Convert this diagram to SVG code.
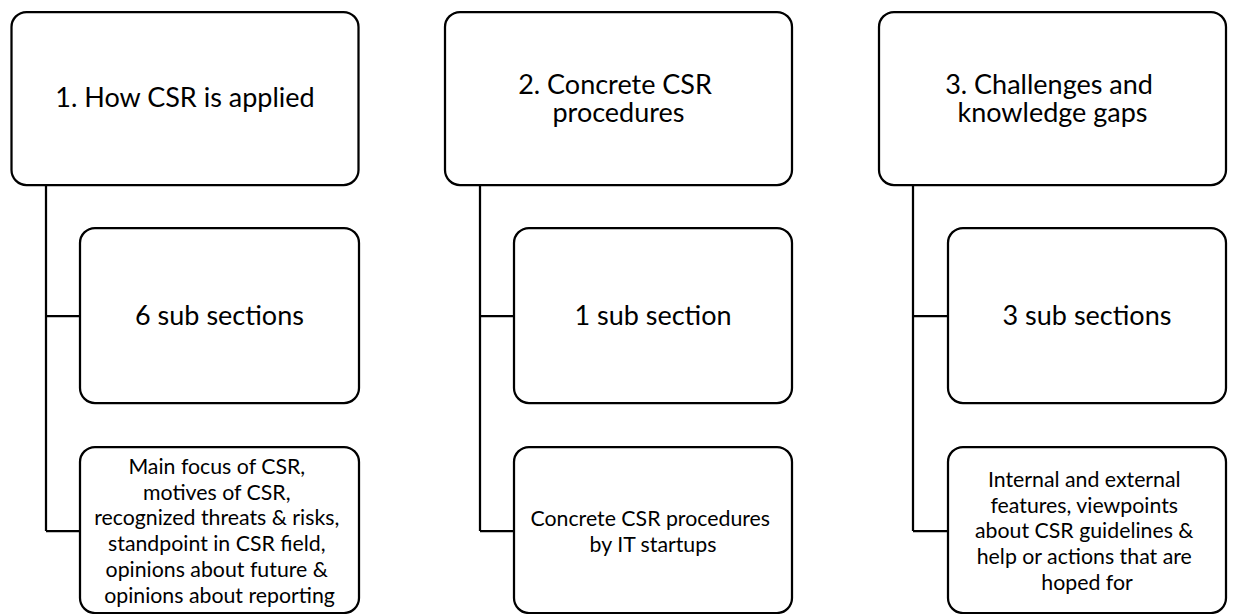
<svg xmlns="http://www.w3.org/2000/svg" width="1234" height="614" viewBox="0 0 1234 614">
  <style>
    .box { fill: #ffffff; stroke: #000000; stroke-width: 2.25; }
    .link { fill: none; stroke: #000000; stroke-width: 2.25; }
    .title { font-family: Lato, "Liberation Sans", sans-serif; font-size: 27px; fill: #000000; text-anchor: middle; }
    .body { font-family: Lato, "Liberation Sans", sans-serif; font-size: 21.3px; fill: #000000; text-anchor: middle; }
  </style>

  <!-- tree connectors: trunk from each heading, branches to its two children -->
  <g id="connectors">
    <path class="link" d="M46,185 V531 M46,316 H80 M46,531 H80"/>
    <path class="link" d="M480,185 V531 M480,316 H514 M480,531 H514"/>
    <path class="link" d="M913,185 V531 M913,316 H948 M913,531 H948"/>
  </g>

  <!-- column 1 -->
  <g id="node-how-csr-applied">
    <rect class="box" x="11.5" y="12" width="347" height="173" rx="15"/>
    <text class="title" x="185" y="107">1. How CSR is applied</text>
  </g>
  <g id="node-6-sub-sections">
    <rect class="box" x="80" y="228" width="279" height="175" rx="15"/>
    <text class="title" x="219.5" y="325">6 sub sections</text>
  </g>
  <g id="node-applied-topics">
    <rect class="box" x="80" y="447" width="279" height="166" rx="15"/>
    <text class="body" x="219.5" y="474">
      <tspan x="219.5">Main focus of CSR,</tspan>
      <tspan x="219.5" dy="25.7">motives of CSR,</tspan>
      <tspan x="219.5" dy="25.7">recognized threats &amp; risks,</tspan>
      <tspan x="219.5" dy="25.7">standpoint in CSR field,</tspan>
      <tspan x="219.5" dy="25.7">opinions about future &amp;</tspan>
      <tspan x="219.5" dy="25.7">opinions about reporting</tspan>
    </text>
  </g>

  <!-- column 2 -->
  <g id="node-concrete-procedures">
    <rect class="box" x="445" y="12" width="347" height="173" rx="15"/>
    <text class="title" x="618.5" y="94">
      <tspan x="618.5">2. Concrete CSR</tspan>
      <tspan x="618.5" dy="28">procedures</tspan>
    </text>
  </g>
  <g id="node-1-sub-section">
    <rect class="box" x="514" y="228" width="278" height="175" rx="15"/>
    <text class="title" x="653" y="325">1 sub section</text>
  </g>
  <g id="node-procedure-topics">
    <rect class="box" x="514" y="447" width="278" height="166" rx="15"/>
    <text class="body" x="653" y="526">
      <tspan x="653">Concrete CSR procedures</tspan>
      <tspan x="653" dy="25.7">by IT startups</tspan>
    </text>
  </g>

  <!-- column 3 -->
  <g id="node-challenges">
    <rect class="box" x="879" y="12" width="347" height="173" rx="15"/>
    <text class="title" x="1052.5" y="94">
      <tspan x="1052.5">3. Challenges and</tspan>
      <tspan x="1052.5" dy="28">knowledge gaps</tspan>
    </text>
  </g>
  <g id="node-3-sub-sections">
    <rect class="box" x="948" y="228" width="278" height="175" rx="15"/>
    <text class="title" x="1087" y="325">3 sub sections</text>
  </g>
  <g id="node-challenge-topics">
    <rect class="box" x="948" y="447" width="278" height="166" rx="15"/>
    <text class="body" x="1087" y="487">
      <tspan x="1087">Internal and external</tspan>
      <tspan x="1087" dy="25.7">features, viewpoints</tspan>
      <tspan x="1087" dy="25.7">about CSR guidelines &amp;</tspan>
      <tspan x="1087" dy="25.7">help or actions that are</tspan>
      <tspan x="1087" dy="25.7">hoped for</tspan>
    </text>
  </g>
</svg>
